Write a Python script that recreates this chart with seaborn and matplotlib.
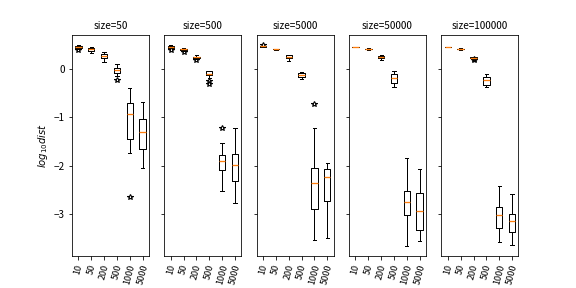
import matplotlib
matplotlib.use("Agg")
import matplotlib.pyplot as plt
import matplotlib.colors as mcolors
import seaborn as sns
import pandas as pd

# sample sizes on the x axis and panel titles
lengths = ['10', '50', '200', '500', '1000', '5000']
sizes = [50, 500, 5000, 50000, 100000]

# box statistics, one list per panel
# each entry: (whisker low, q1, median, q3, whisker high, [fliers])
box50 = [
    (0.42, 0.455, 0.47, 0.485, 0.50, [0.40]),
    (0.34, 0.39, 0.42, 0.44, 0.47, []),
    (0.15, 0.23, 0.28, 0.33, 0.37, []),
    (-0.13, -0.065, -0.02, 0.02, 0.105, [-0.22]),
    (-1.75, -1.45, -0.93, -0.70, -0.39, [-2.66]),
    (-2.05, -1.66, -1.30, -1.04, -0.68, []),
]
box500 = [
    (0.44, 0.455, 0.47, 0.485, 0.50, [0.40]),
    (0.39, 0.405, 0.42, 0.43, 0.44, [0.355]),
    (0.22, 0.24, 0.25, 0.265, 0.29, [0.195]),
    (-0.18, -0.12, -0.09, -0.04, -0.03, [-0.25, -0.30]),
    (-2.54, -2.09, -1.90, -1.78, -1.54, [-1.23]),
    (-2.77, -2.33, -1.99, -1.76, -1.23, []),
]
box5000 = [
    (0.465, 0.47, 0.48, 0.485, 0.49, [0.515]),
    (0.41, 0.415, 0.42, 0.425, 0.43, []),
    (0.17, 0.23, 0.25, 0.29, 0.30, []),
    (-0.21, -0.16, -0.12, -0.08, -0.06, []),
    (-3.55, -2.90, -2.37, -2.05, -1.21, [-0.73]),
    (-3.50, -2.73, -2.24, -2.08, -1.94, []),
]
box50000 = [
    (0.47, 0.47, 0.47, 0.47, 0.47, []),
    (0.41, 0.415, 0.42, 0.425, 0.43, [0.40, 0.44]),
    (0.19, 0.24, 0.26, 0.28, 0.30, []),
    (-0.36, -0.28, -0.17, -0.09, -0.04, []),
    (-3.68, -3.03, -2.75, -2.54, -1.84, []),
    (-3.57, -3.35, -2.94, -2.58, -2.07, []),
]
box100000 = [
    (0.47, 0.47, 0.47, 0.47, 0.47, []),
    (0.41, 0.415, 0.42, 0.425, 0.43, [0.40, 0.44]),
    (0.22, 0.235, 0.24, 0.25, 0.26, [0.20, 0.21]),
    (-0.36, -0.32, -0.23, -0.15, -0.09, []),
    (-3.59, -3.30, -3.04, -2.87, -2.43, []),
    (-3.66, -3.38, -3.15, -3.00, -2.60, []),
]
panels = [box50, box500, box5000, box50000, box100000]

# turn each five-number summary into a sample seaborn can summarise again
rows = []
for size, boxes in zip(sizes, panels):
    for n, (lo, q1, med, q3, hi, fl) in zip(lengths, boxes):
        vals = [lo] + [q1] * 20 + [med] * 20 + [q3] * 20 + [hi] + fl
        for v in vals:
            rows.append({'size': size, 'n': n, 'val': v})
df = pd.DataFrame(rows)

plt.rcParams['font.family'] = ['Noto Sans CJK SC', 'DejaVu Sans']
plt.rcParams['axes.unicode_minus'] = True

ORANGE = '#ff7f0e'

fig, axes = plt.subplots(1, 5, figsize=(8, 4), dpi=72, sharey=True)
for ax, size in zip(axes, sizes):
    sub = df[df['size'] == size]
    sns.boxplot(data=sub, x='n', y='val', order=lengths, ax=ax,
                fill=False, color='black', width=0.5, linewidth=1,
                medianprops={'color': ORANGE, 'linewidth': 1.3},
                flierprops={'marker': '*', 'markerfacecolor': 'none',
                            'markeredgecolor': 'black', 'markersize': 6,
                            'markeredgewidth': 1.1})
    # keep the orange medians above the box outlines
    for line in ax.lines:
        if mcolors.to_hex(line.get_color()) == ORANGE:
            line.set_zorder(10)
    ax.set_title('size=%d' % size, fontsize=10)
    ax.set_xlabel('')
    ax.set_ylabel('')
    ax.tick_params(axis='x', labelrotation=75, labelsize=9)
    ax.set_xlim(-0.5, 5.5)

axes[0].set_ylabel('$log_{10}dist$')
plt.savefig('out.png', dpi=72)
